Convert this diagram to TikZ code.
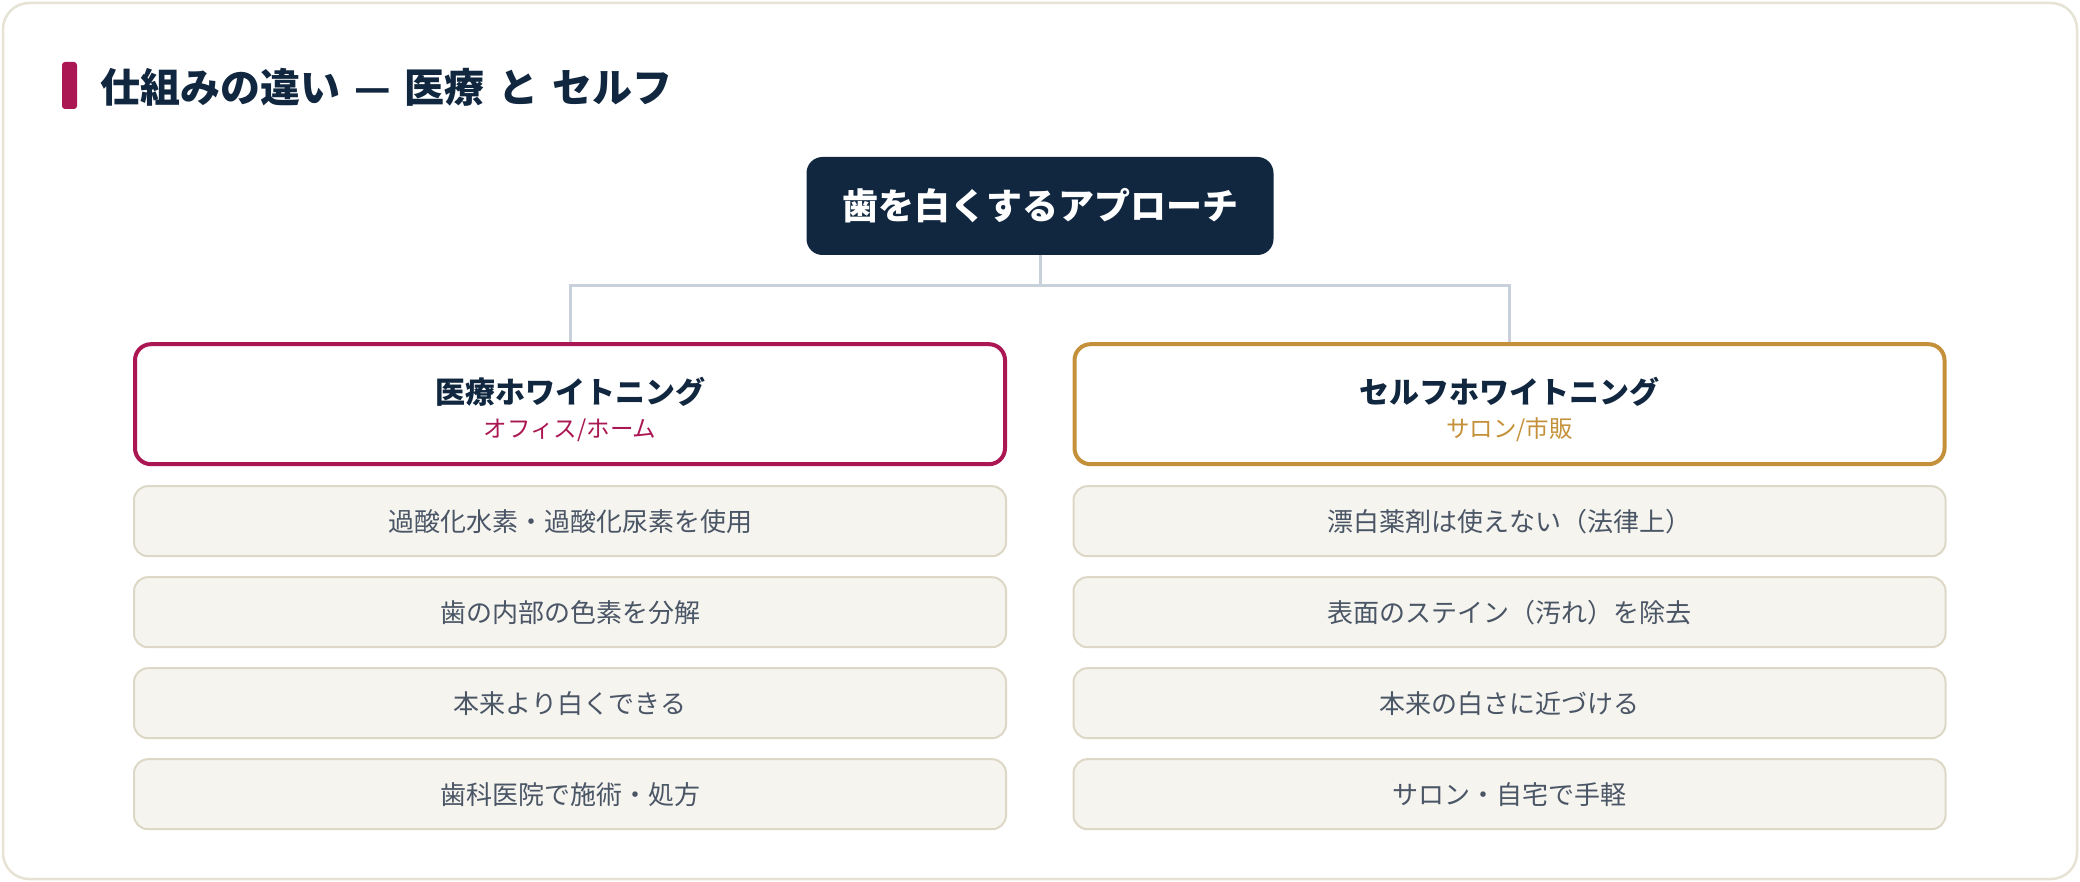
\documentclass[tikz,border=0pt]{standalone}
\usepackage{fontspec}
\setmainfont{Noto Sans CJK JP}
\usepackage{tikz}
\usetikzlibrary{positioning}

\definecolor{navy}{HTML}{10273F}
\definecolor{crimson}{HTML}{AA1752}
\definecolor{gold}{HTML}{C4913A}
\definecolor{linkgray}{HTML}{C8D0DA}
\definecolor{itemfill}{HTML}{F5F4EF}
\definecolor{itemline}{HTML}{DDD8C6}
\definecolor{itemtext}{HTML}{4A5565}
\definecolor{frameline}{HTML}{E6E3D5}

\tikzset{
  rootbox/.style={fill=navy, rounded corners=16pt, minimum width=467pt, minimum height=98pt,
    text=white, font=\fontsize{36}{40}\selectfont\bfseries},
  cardbox/.style={draw, line width=4pt, fill=white, rounded corners=16pt, minimum width=870pt,
    minimum height=120pt, align=center, text=navy, font=\fontsize{30}{34}\selectfont},
  itembox/.style={draw=itemline, line width=2pt, fill=itemfill, rounded corners=14pt,
    minimum width=872pt, minimum height=70pt, text=itemtext, font=\fontsize{26}{30}\selectfont},
  link/.style={draw=linkgray, line width=3pt},
}

\begin{document}
\begin{tikzpicture}[x=1pt,y=1pt]
            \useasboundingbox (0,0) rectangle (2080,-882);
            \draw[frameline, line width=2.5pt, fill=white, rounded corners=26pt] (3,-3) rectangle (2077,-879);

            % heading
            \fill[crimson, rounded corners=3pt] (62,-62) rectangle (77,-109);
            \node[anchor=west, text=navy, font=\fontsize{40}{44}\selectfont\bfseries, inner sep=0pt](title) at (100,-87) {\spaceskip=14pt\relax 仕組みの違い — 医療 と セルフ};

            \node[rootbox](root) at (1040,-206) {歯を白くするアプローチ};
            \node[cardbox, draw=crimson](med)[below=87pt of root, xshift=-470pt]{\rule{0pt}{37pt}\textbf{医療ホワイトニング}\\{\fontsize{23.5}{34}\selectfont\color{crimson}オフィス/ホーム}};
            \node[cardbox, draw=gold](self)[below=87pt of root, xshift=469.5pt]{\rule{0pt}{37pt}\textbf{セルフホワイトニング}\\{\fontsize{23.5}{34}\selectfont\color{gold}サロン/市販}};

            \node[itembox](med1)[below=19pt of med]{過酸化水素・過酸化尿素を使用};
            \node[itembox](med2)[below=19pt of med1]{歯の内部の色素を分解};
            \node[itembox](med3)[below=19pt of med2]{本来より白くできる};
            \node[itembox](med4)[below=19pt of med3]{歯科医院で施術・処方};

            \node[itembox](self1)[below=19pt of self]{漂白薬剤は使えない（法律上）};
            \node[itembox](self2)[below=19pt of self1]{表面のステイン（汚れ）を除去};
            \node[itembox](self3)[below=19pt of self2]{本来の白さに近づける};
            \node[itembox](self4)[below=19pt of self3]{サロン・自宅で手軽};

            \coordinate (fork) at ([yshift=-30pt]root.south);
            \path[link]
            (root.south) -- (fork)
            (fork) -| (med.north)
            (fork) -| (self.north);
        \end{tikzpicture}
\end{document}
